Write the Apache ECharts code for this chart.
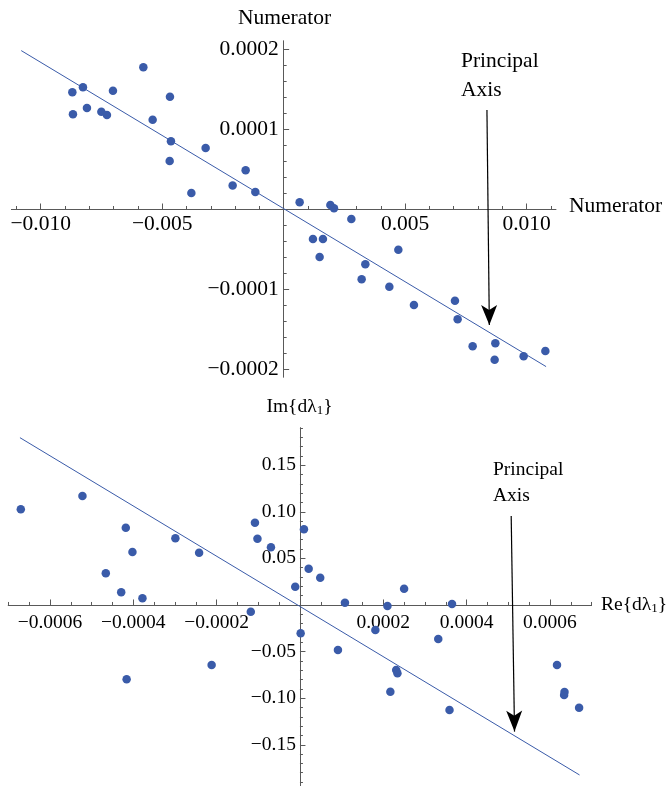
<!DOCTYPE html>
<html>
<head>
<meta charset="utf-8">
<script src="https://cdn.jsdelivr.net/npm/echarts@6/dist/echarts.min.js"></script>
<style>html,body{margin:0;padding:0;background:#fff;}#c{width:666px;height:786px;}</style>
</head>
<body>
<div id="c"></div>
<script>
// ---------- Top panel data ----------
const topX = [-0.008696,-0.008259,-0.008671,-0.008095,-0.007502,-0.007272,-0.007025,-0.005774,-0.005391,-0.004679,
  -0.004638,-0.004691,-0.003210,-0.001564,-0.002099,-0.001165,-0.003798,0.000658,0.001922,0.002072,
  0.001206,0.001617,0.001481,0.002786,0.004720,0.003362,0.003210,0.004350,0.005362,0.007050,
  0.007160,0.007778,0.008712,0.008683,0.009877,0.010770];
const topY = [0.0001459,0.0001521,0.0001184,0.0001263,0.0001216,0.0001175,0.0001479,0.0001771,0.0001116,0.0001404,
  0.0000846,0.0000600,0.0000763,0.0000484,0.0000294,0.0000213,0.0000200,0.0000084,0.0000050,0.0000009,
  -0.0000375,-0.0000375,-0.0000600,-0.0000125,-0.0000509,-0.0000691,-0.0000879,-0.0000971,-0.0001200,-0.0001146,
  -0.0001379,-0.0001716,-0.0001679,-0.0001884,-0.0001841,-0.0001775];
const topFitX = [-0.0108, 0.0108];
const topFitY = [0.000198, -0.000197];
const topArrowX = [0.008366, 0.008465];
const topArrowY = [0.00012375, -0.000145];
const topNoteXY = [0.007284, 0.000166875];
const topXTicks = [-0.010, -0.005, 0.005, 0.010];
const topXTickLabels = ['\u22120.010', '\u22120.005', '0.005', '0.010'];
const topYTicks = [-0.0002, -0.0001, 0.0001, 0.0002];
const topYTickLabels = ['\u22120.0002', '\u22120.0001', '0.0001', '0.0002'];

// ---------- Bottom panel data ----------
const botX = [-0.000670,-0.000522,-0.000418,-0.000402,-0.000466,-0.000299,-0.000242,-0.000108,-0.000102,-0.0000696,
  0.0000096,0.0000209,0.0000487,-0.0000113,-0.000429,-0.000378,-0.000118,0.0000017,-0.000212,-0.000416,
  0.000108,0.000210,0.000250,0.000365,0.000181,0.0000912,0.000332,0.000231,0.000234,0.000217,
  0.000359,0.000617,0.000635,0.000634,0.000670];
const botY = [0.1027,0.1170,0.0829,0.0569,0.0340,0.0716,0.0561,0.0883,0.0711,0.0619,
  0.0812,0.0389,0.0293,0.0196,0.0136,0.0072,-0.0072,-0.0304,-0.0644,-0.0797,
  0.0025,-0.0011,0.0175,0.0011,-0.0268,-0.0483,-0.0365,-0.0697,-0.0733,-0.0930,
  -0.1127,-0.0644,-0.0933,-0.0966,-0.1102];
const botFitX = [-0.000672, 0.000671];
const botFitY = [0.1795, -0.1824];
const botArrowX = [0.000507, 0.000515];
const botArrowY = [0.0955, -0.1359];
const botNoteXY = [0.000463, 0.1309];
const botXTicks = [-0.0006, -0.0004, -0.0002, 0.0002, 0.0004, 0.0006];
const botXTickLabels = ['\u22120.0006', '\u22120.0004', '\u22120.0002', '0.0002', '0.0004', '0.0006'];
const botYTicks = [-0.15, -0.10, -0.05, 0.05, 0.10, 0.15];
const botYTickLabels = ['\u22120.15', '\u22120.10', '\u22120.05', '0.05', '0.10', '0.15'];

// minor tick positions
function minorTicks(step, n, every) {
  const out = [];
  for (let k = -n; k <= n; k++) { if (k % every !== 0) out.push(+(k * step).toPrecision(10)); }
  return out;
}
const topXMinor = minorTicks(0.001, 11, 5);
const topYMinor = minorTicks(0.00002, 10, 5);
const botXMinor = minorTicks(0.00005, 14, 4);
const botYMinor = minorTicks(0.01, 19, 5);

const SERIF = '"Liberation Serif", "Times New Roman", serif';
const AXIS_COLOR = '#595959';
const DOT = '#3a5ba9';
const TOPF = 21.5, BOTF = 19.5;

// grid geometry (pixels); axes are shifted onto the zero lines by offsets
const G0 = { left: 11.5, width: 544.3, top: 41, height: 336 };
const G1 = { left: 8.3, width: 583.3, top: 427.9, height: 358.8 };
const TOP_XMIN = -0.0112, TOP_XMAX = 0.0112, TOP_YMIN = -0.00021, TOP_YMAX = 0.00021;
const BOT_XMIN = -0.0007, BOT_XMAX = 0.0007, BOT_YMIN = -0.195, BOT_YMAX = 0.19;
function xOff(g, ymin, ymax) { return -(g.height * (0 - ymin) / (ymax - ymin)); }
function yOff(g, xmin, xmax) { return -(g.width * (0 - xmin) / (xmax - xmin)); }
const offTopX = xOff(G0, TOP_YMIN, TOP_YMAX), offTopY = yOff(G0, TOP_XMIN, TOP_XMAX);
const offBotX = xOff(G1, BOT_YMIN, BOT_YMAX), offBotY = yOff(G1, BOT_XMIN, BOT_XMAX);

function lab(ticks, labels) {
  return function (v) {
    for (let i = 0; i < ticks.length; i++) if (Math.abs(ticks[i] - v) < 1e-12) return labels[i];
    return '';
  };
}
function mainAxis(o) {
  return {
    type: 'value', gridIndex: o.grid, min: o.min, max: o.max, position: o.pos, offset: o.off,
    splitLine: { show: false },
    axisLine: { show: true, onZero: false, lineStyle: { color: AXIS_COLOR, width: 1 } },
    axisTick: { show: true, inside: true, length: 5.5, customValues: o.ticks, lineStyle: { color: AXIS_COLOR, width: 1 } },
    axisLabel: { show: true, customValues: o.ticks, formatter: lab(o.ticks, o.labels), margin: o.margin,
      fontFamily: SERIF, fontSize: o.fs, color: '#000' },
    minorTick: { show: false }
  };
}
function minorAxis(o) {
  return {
    type: 'value', gridIndex: o.grid, min: o.min, max: o.max, position: o.pos, offset: o.off,
    splitLine: { show: false },
    axisLine: { show: true, onZero: false, lineStyle: { color: AXIS_COLOR, width: 1 } },
    axisTick: { show: true, inside: true, length: 3, customValues: o.ticks, lineStyle: { color: AXIS_COLOR, width: 1 } },
    axisLabel: { show: false },
    minorTick: { show: false }
  };
}
function zip(a, b) { return a.map((v, i) => [v, b[i]]); }
function arrowLine(ax, ay, size) {
  return { silent: true, animation: false, label: { show: false },
    lineStyle: { color: '#000', width: 1.2, type: 'solid' },
    data: [[ { coord: [ax[0], ay[0]], symbol: 'none' },
             { coord: [ax[1], ay[1]], symbol: 'arrow', symbolSize: size } ]] };
}

const chart = echarts.init(document.getElementById('c'), null, { renderer: 'canvas' });
chart.setOption({
  animation: false,
  backgroundColor: '#fff',
  grid: [
    Object.assign({ containLabel: false, outerBoundsMode: 'none' }, G0),
    Object.assign({ containLabel: false, outerBoundsMode: 'none' }, G1)
  ],
  xAxis: [
    mainAxis({ grid: 0, pos: 'bottom', off: offTopX, min: TOP_XMIN, max: TOP_XMAX, ticks: topXTicks, labels: topXTickLabels, margin: 4, fs: TOPF }),
    minorAxis({ grid: 0, pos: 'bottom', off: offTopX, min: TOP_XMIN, max: TOP_XMAX, ticks: topXMinor }),
    mainAxis({ grid: 1, pos: 'bottom', off: offBotX, min: BOT_XMIN, max: BOT_XMAX, ticks: botXTicks, labels: botXTickLabels, margin: 8, fs: BOTF }),
    minorAxis({ grid: 1, pos: 'bottom', off: offBotX, min: BOT_XMIN, max: BOT_XMAX, ticks: botXMinor })
  ],
  yAxis: [
    mainAxis({ grid: 0, pos: 'left', off: offTopY, min: TOP_YMIN, max: TOP_YMAX, ticks: topYTicks, labels: topYTickLabels, margin: 5, fs: TOPF }),
    minorAxis({ grid: 0, pos: 'left', off: offTopY, min: TOP_YMIN, max: TOP_YMAX, ticks: topYMinor }),
    mainAxis({ grid: 1, pos: 'left', off: offBotY, min: BOT_YMIN, max: BOT_YMAX, ticks: botYTicks, labels: botYTickLabels, margin: 4, fs: BOTF }),
    minorAxis({ grid: 1, pos: 'left', off: offBotY, min: BOT_YMIN, max: BOT_YMAX, ticks: botYMinor })
  ],
  series: [
    { type: 'line', xAxisIndex: 0, yAxisIndex: 0, data: zip(topFitX, topFitY), showSymbol: false, silent: true,
      lineStyle: { color: DOT, width: 1 }, markLine: arrowLine(topArrowX, topArrowY, [12, 20]) },
    { type: 'scatter', xAxisIndex: 0, yAxisIndex: 0, data: zip(topX, topY), symbolSize: 8.5,
      itemStyle: { color: DOT, opacity: 1 } },
    { type: 'line', xAxisIndex: 2, yAxisIndex: 2, data: zip(botFitX, botFitY), showSymbol: false, silent: true,
      lineStyle: { color: DOT, width: 1 }, markLine: arrowLine(botArrowX, botArrowY, [12, 21]) },
    { type: 'scatter', xAxisIndex: 2, yAxisIndex: 2, data: zip(botX, botY), symbolSize: 8.5,
      itemStyle: { color: DOT, opacity: 1 } }
  ]
});

// annotation texts placed from data coordinates
const pTop = chart.convertToPixel({ gridIndex: 0 }, topNoteXY);
const pBot = chart.convertToPixel({ gridIndex: 1 }, botNoteXY);
chart.setOption({
  graphic: [
    { type: 'text', x: 284.5, y: 18, silent: true,
      style: { text: 'Numerator', fontFamily: SERIF, fontSize: TOPF, fill: '#000', align: 'center', verticalAlign: 'middle' } },
    { type: 'text', x: 569, y: 206, silent: true,
      style: { text: 'Numerator', fontFamily: SERIF, fontSize: TOPF, fill: '#000', align: 'left', verticalAlign: 'middle' } },
    { type: 'text', x: 299.5, y: 406.7, silent: true,
      style: { text: 'Im{dλ{s|1}}', fontFamily: SERIF, fontSize: BOTF, lineHeight: 20, fill: '#000', align: 'center', verticalAlign: 'middle',
        rich: { s: { fontFamily: SERIF, fontSize: 13, lineHeight: 10, verticalAlign: 'bottom', fill: '#000' } } } },
    { type: 'text', x: 601, y: 605, silent: true,
      style: { text: 'Re{dλ{s|1}}', fontFamily: SERIF, fontSize: BOTF, lineHeight: 20, fill: '#000', align: 'left', verticalAlign: 'middle',
        rich: { s: { fontFamily: SERIF, fontSize: 13, lineHeight: 10, verticalAlign: 'bottom', fill: '#000' } } } },
    { type: 'text', x: Math.round(pTop[0]), y: Math.round(pTop[1]), silent: true,
      style: { text: 'Principal\nAxis', fontFamily: SERIF, fontSize: TOPF, lineHeight: 29, fill: '#000', align: 'left', verticalAlign: 'middle' } },
    { type: 'text', x: Math.round(pBot[0]), y: Math.round(pBot[1]), silent: true,
      style: { text: 'Principal\nAxis', fontFamily: SERIF, fontSize: BOTF, lineHeight: 26, fill: '#000', align: 'left', verticalAlign: 'middle' } }
  ]
});
</script>
</body>
</html>
